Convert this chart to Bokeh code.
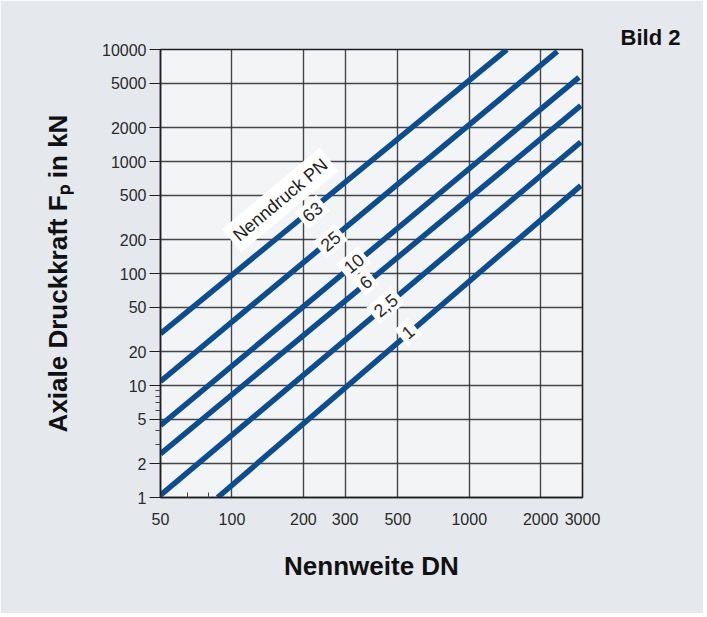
from bokeh.plotting import figure
from bokeh.models import FixedTicker, Title, CustomJSTickFormatter
from bokeh.core.properties import value
from bokeh.embed import file_html
from bokeh.resources import INLINE

# Nominal pressure lines (straight in log-log): start and end points
pn_labels = ["63", "25", "10", "6", "2,5", "1"]
dn_start = [50, 50, 50, 50, 50, 87]
f_start = [29, 10.9, 4.4, 2.45, 1.05, 1.0]
dn_end = [1440, 2350, 2900, 2950, 2950, 2950]
f_end = [10000, 9600, 5640, 3150, 1490, 610]

# label positions along the lines
label_dn = [218, 260, 326, 366, 444, 551]
label_f = [356, 195, 123, 84, 52, 30]

title_dn = [160]
title_f = [453]
title_txt = ["Nenndruck PN"]

x_ticks = [50, 100, 200, 300, 500, 1000, 2000, 3000]
x_minor = [65, 80]
y_ticks = [1, 2, 5, 10, 20, 50, 100, 200, 500, 1000, 2000, 5000, 10000]
y_minor = [3, 4, 6, 7, 8, 9]

FONT = "Liberation Sans"
BLUE = "#0b4d93"

p = figure(width=703, height=613, x_axis_type="log", y_axis_type="log",
           x_range=(50, 3000), y_range=(1, 10000),
           output_backend="svg", toolbar_location=None,
           min_border_left=160, min_border_right=121,
           min_border_top=49, min_border_bottom=116)

p.background_fill_color = "#f3f4f6"
p.border_fill_color = "#e5e9ee"
p.outline_line_color = "#1e1e1e"
p.outline_line_width = 1.6

p.xaxis.ticker = FixedTicker(ticks=x_ticks, minor_ticks=x_minor)
p.yaxis.ticker = FixedTicker(ticks=y_ticks, minor_ticks=y_minor)
fmt = CustomJSTickFormatter(code="return String(tick);")
p.xaxis.formatter = fmt
p.yaxis.formatter = fmt

for ax in (p.xaxis, p.yaxis):
    ax.axis_line_color = "#1e1e1e"
    ax.axis_line_width = 1.4
    ax.major_tick_line_color = "#1e1e1e"
    ax.minor_tick_line_color = "#444444"
    ax.major_label_text_font = FONT
    ax.major_label_text_font_size = "16px"
    ax.major_label_text_color = "#2a2a2a"
    ax.axis_label_text_font = FONT
    ax.axis_label_text_font_style = "bold"
    ax.axis_label_text_font_size = "26px"
    ax.axis_label_text_color = "#111111"

p.xaxis.major_tick_out = 0
p.xaxis.major_tick_in = 0
p.xaxis.minor_tick_in = 5
p.xaxis.minor_tick_out = 0
p.xaxis.major_label_standoff = 15
p.xaxis.axis_label = "Nennweite DN"
p.xaxis.axis_label_standoff = 23

p.yaxis.major_tick_out = 11
p.yaxis.major_tick_in = 0
p.yaxis.minor_tick_out = 5
p.yaxis.minor_tick_in = 0
p.yaxis.major_label_standoff = 3
p.yaxis.axis_label = "Axiale Druckkraft F\u209a in kN"
p.yaxis.axis_label_standoff = 26

p.xgrid.ticker = FixedTicker(ticks=x_ticks)
p.ygrid.ticker = FixedTicker(ticks=y_ticks)
for g in (p.xgrid, p.ygrid):
    g.grid_line_color = "#333333"
    g.grid_line_width = 1.4
    g.grid_line_alpha = 0.9

p.segment(x0=dn_start, y0=f_start, x1=dn_end, y1=f_end,
          line_color=BLUE, line_width=5.5, line_cap="butt")

p.text(x=label_dn, y=label_f, text=pn_labels, angle=40, angle_units="deg",
       text_font=value(FONT), text_font_size="18px", text_color="#2a2a2a",
       text_align="center", text_baseline="middle",
       background_fill_color="white", padding=4)

p.text(x=title_dn, y=title_f, text=title_txt, angle=40, angle_units="deg",
       text_font=value(FONT), text_font_size="18px", text_color="#1e1e1e",
       text_align="center", text_baseline="middle",
       background_fill_color="white", padding=5)

bild = Title(text="Bild 2", align="right", offset=-98, standoff=0,
             text_font=FONT, text_font_style="bold", text_font_size="22px",
             text_color="#111111")
p.add_layout(bild, "above")

open("out.html", "w").write(file_html(p, INLINE))
